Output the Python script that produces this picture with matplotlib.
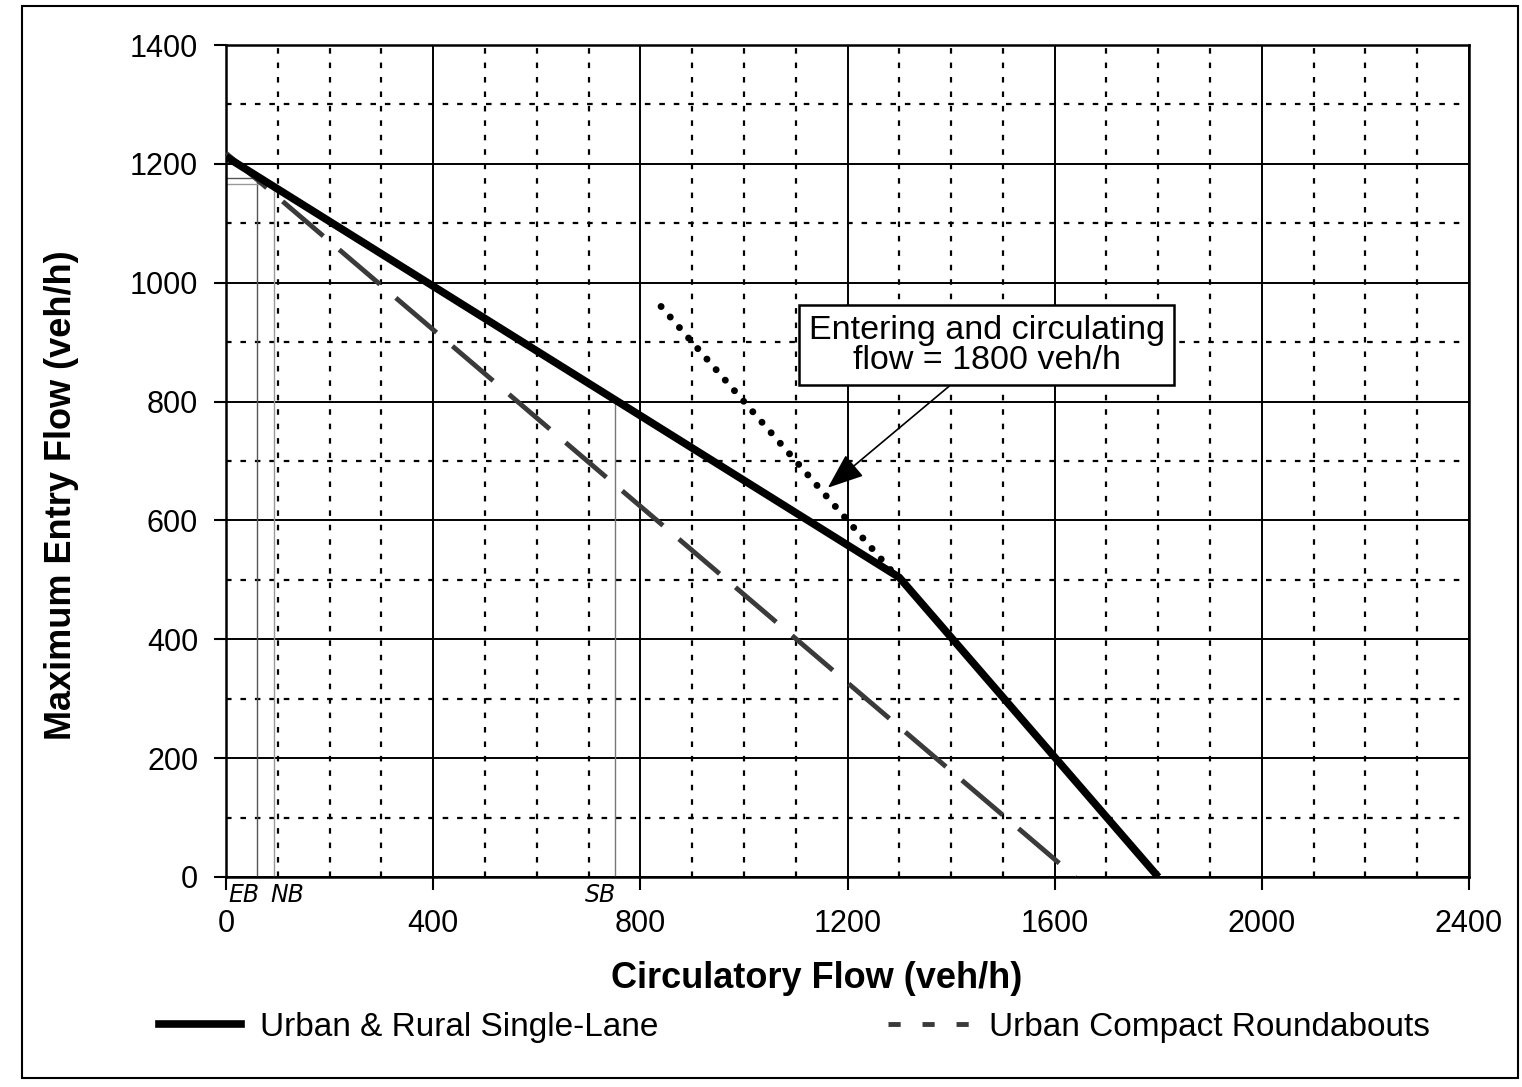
import matplotlib.pyplot as plt
from matplotlib.lines import Line2D
from matplotlib.patches import Rectangle

plt.rcParams['font.family'] = ['Liberation Sans', 'DejaVu Sans']

# Urban & Rural Single-Lane (solid)
single_x = [0, 1300, 1800]
single_y = [1212, 504, 0]

# Urban Compact Roundabouts (dashed)
compact_x = [0, 1640]
compact_y = [1218, 0]

# entering + circulating = 1800 veh/h (dotted)
limit_x = [840, 1290]
limit_y = [960, 510]

# approach markers (handwritten)
approach_x = [60, 92, 752]
approach_y = [1176, 1166, 0]
approach_names = ['EB', 'NB', 'SB']
approach_text_x = [4, 85, 693]

x_major = list(range(0, 2401, 400))
y_major = list(range(0, 1401, 200))

fig = plt.figure(figsize=(15.22, 10.87), dpi=100)
ax = fig.add_axes([0.1485, 0.1932, 0.8167, 0.7654])

ax.set_xlim(0, 2400)
ax.set_ylim(0, 1400)
ax.set_xticks(x_major)
ax.set_yticks(y_major)
ax.set_xticks(range(0, 2401, 100), minor=True)
ax.set_yticks(range(0, 1401, 100), minor=True)

ax.grid(which='major', color='black', lw=1.4)
ax.grid(which='minor', color='black', lw=1.6, linestyle=(0, (2.5, 4)))
ax.set_axisbelow(True)
for s in ax.spines.values():
    s.set_linewidth(1.8)

ax.tick_params(axis='both', which='major', labelsize=22, length=9, width=1.5, direction='out')
ax.tick_params(axis='x', which='major', pad=14)
ax.tick_params(axis='y', which='major', pad=11)
ax.tick_params(axis='both', which='minor', length=0)

# thin approach guide lines
ax.plot([approach_x[0], approach_x[0]], [0, approach_y[0]], color='#555555', lw=1)
ax.plot([0, approach_x[0]], [approach_y[0], approach_y[0]], color='#555555', lw=1)
ax.plot([approach_x[1], approach_x[1]], [0, approach_y[1]], color='#999999', lw=1)
ax.plot([0, approach_x[1]], [approach_y[1], approach_y[1]], color='#999999', lw=1)
ax.plot([approach_x[2], approach_x[2]], [0, 805], color='#777777', lw=1)

ax.plot(compact_x, compact_y, color='#3a3a3a', lw=3.5, dashes=(11, 4.3),
        label='Urban Compact Roundabouts', zorder=3)
ax.plot(single_x, single_y, color='black', lw=5.5, solid_capstyle='butt',
        label='Urban & Rural Single-Lane', zorder=4)
ax.plot(limit_x, limit_y, color='black', lw=5, linestyle=(0, (0.01, 2)),
        dash_capstyle='round', zorder=4)

ax.annotate('Entering and circulating\nflow = 1800 veh/h', xy=(1162, 655), xytext=(1469, 895),
            fontsize=24.5, ha='center', va='center', linespacing=0.95,
            bbox=dict(boxstyle='square,pad=0.28', fc='white', ec='black', lw=1.8),
            arrowprops=dict(arrowstyle='-|>,head_length=0.9,head_width=0.35', color='black',
                            lw=1.2, relpos=(0.43, 0), shrinkA=0, shrinkB=0, mutation_scale=25),
            zorder=5)

ax.set_xlabel('Circulatory Flow (veh/h)', fontsize=26, fontweight='bold')
ax.set_ylabel('Maximum Entry Flow (veh/h)', fontsize=26, fontweight='bold')
ax.xaxis.set_label_coords(0.475, -0.101)
ax.yaxis.set_label_coords(-0.118, 0.459)

# handwritten approach notes
for name, tx in zip(approach_names, approach_text_x):
    ax.text(tx, -10, name, fontsize=17, style='italic', family='DejaVu Sans',
            va='top', fontweight='light')

handles = [Line2D([], [], color='black', lw=5.5),
           Line2D([], [], color='#3a3a3a', lw=3.5, dashes=(2.5, 4.5))]
fig.legend(handles, ['Urban & Rural Single-Lane', 'Urban Compact Roundabouts'],
           loc='center left', bbox_to_anchor=(0.085, 0.055), ncol=2, frameon=False,
           fontsize=24, handlelength=2.45, handletextpad=0.57, columnspacing=6.9)

fig.patches.append(Rectangle((22 / 1522, 1 - 1078 / 1087), 1496 / 1522, 1072 / 1087,
                             transform=fig.transFigure, fill=False, ec='black', lw=1.5))

fig.savefig('out.png', dpi=100)
